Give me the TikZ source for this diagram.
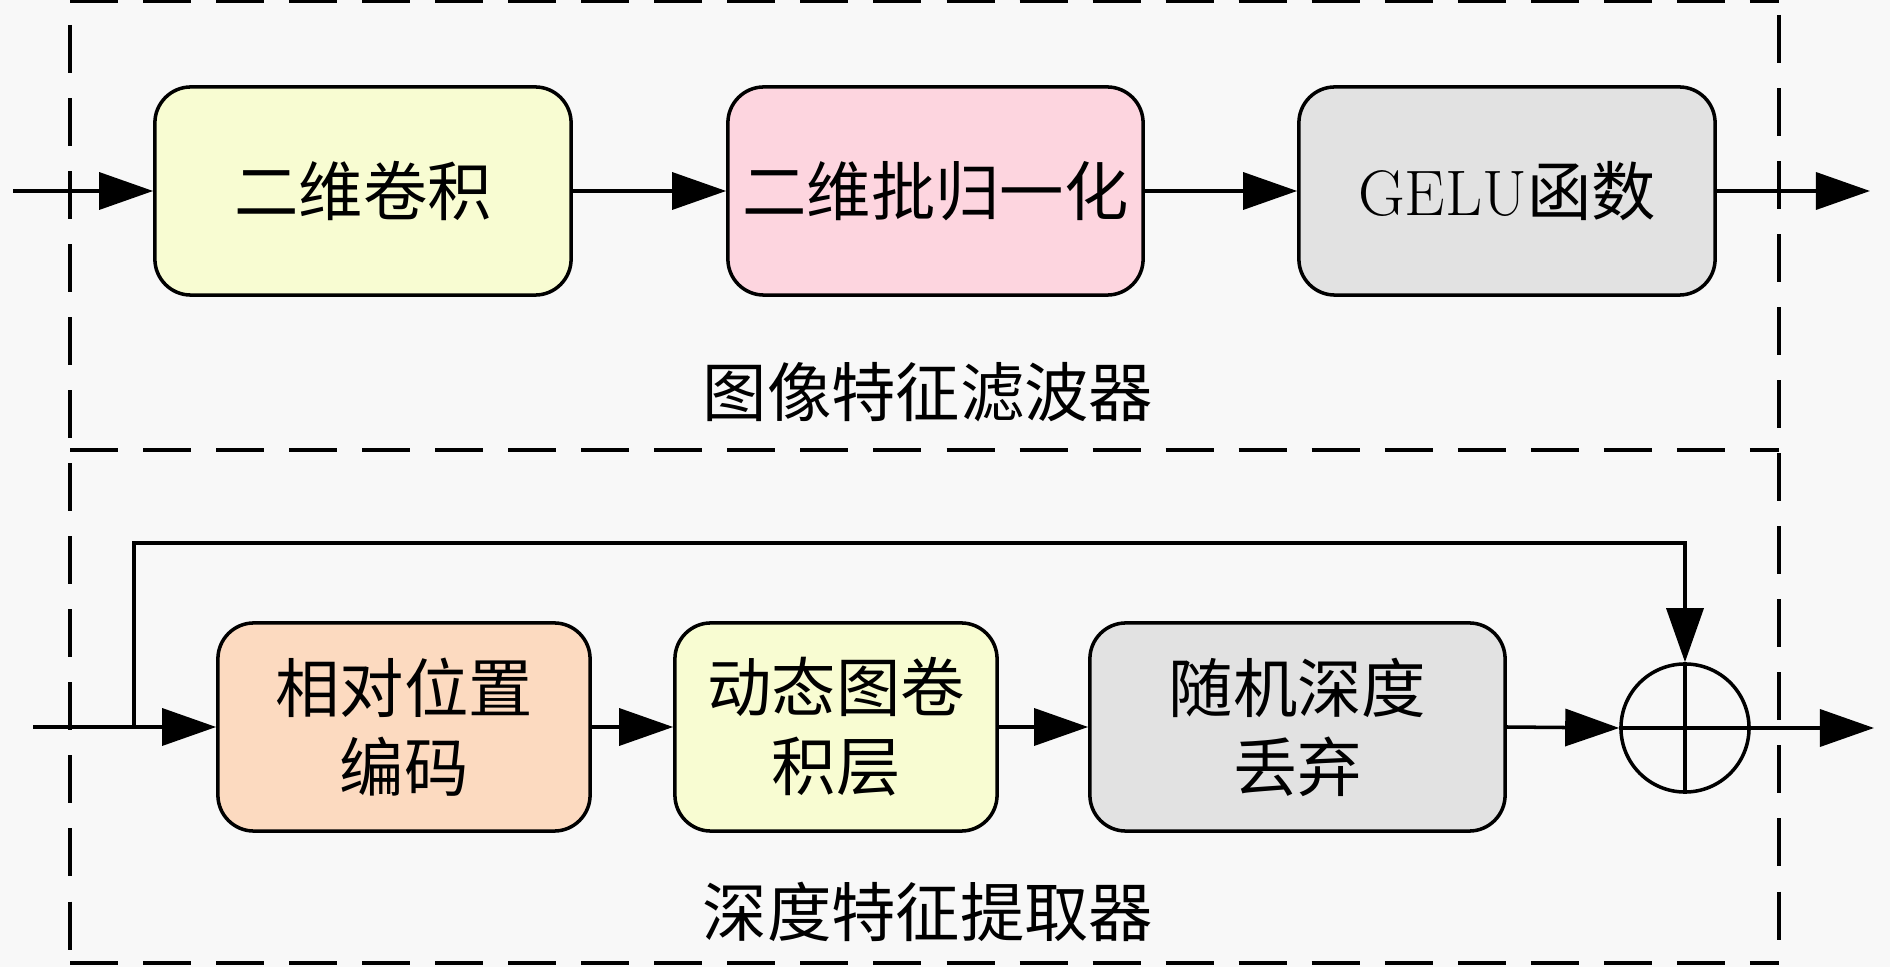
\documentclass[tikz,border=0pt]{standalone}
\usepackage{fontspec}
\newfontfamily\cjk{Noto Sans CJK SC}
\usetikzlibrary{arrows.meta,shapes.geometric}
\definecolor{cbg}{RGB}{248,248,248}
\definecolor{cyel}{RGB}{248,252,210}
\definecolor{cpink}{RGB}{253,213,223}
\definecolor{cgray}{RGB}{226,226,226}
\definecolor{cpeach}{RGB}{252,218,192}
\begin{document}
\begin{tikzpicture}[x=0.01cm,y=-0.01cm,
  blk/.style={draw=black, line width=1pt, rounded corners=0.36cm, minimum height=2.08cm, inner sep=0pt, align=center, font=\fontsize{18.3}{22.5}\selectfont\cjk},
  arr/.style={line width=1pt, -{Triangle[length=0.54cm,width=0.37cm]}},
  frame/.style={dash pattern=on 0.48cm off 0.25cm, line width=1pt},
  lbl/.style={font=\fontsize{18.3}{22}\selectfont\cjk, inner sep=0pt}]
\fill[cbg] (0,0) rectangle (1890,967);
\useasboundingbox (0,0) rectangle (1890,967);
% frames
\draw[frame] (70,1.5) -- (1779,1.5);
\draw[frame] (70,450) -- (1779,450);
\draw[frame] (70,963) -- (1779,963);
\draw[frame] (70,25) -- (70,963);
\draw[frame] (1779,15) -- (1779,963);
% top row
\node[blk, fill=cyel, minimum width=4.16cm] (b1) at (363,191) {二维卷积};
\node[blk, fill=cpink, minimum width=4.15cm] (b2) at (935.5,191) {二维批归一化};
\node[blk, fill=cgray, minimum width=4.16cm] (b3) at (1507,191) {{\rmfamily GELU}函数};
\node[lbl] (l1) at (928,392) {图像特征滤波器};
\coordinate (in1) at (13,191);
\coordinate (out1) at (1870,191);
\draw[arr] (in1) -- (b1.west);
\draw[arr] (b1.east) -- (b2.west);
\draw[arr] (b2.east) -- (b3.west);
\draw[arr] (b3.east) -- (out1);
% bottom row
\node[blk, fill=cpeach, minimum width=3.72cm] (b4) at (404,727) {相对位置\\编码};
\node[blk, fill=cyel, minimum width=3.22cm] (b5) at (836,727) {动态图卷\\积层};
\node[blk, fill=cgray, minimum width=4.15cm] (b6) at (1297.5,727) {随机深度\\丢弃};
\node[draw, circle, line width=1pt, minimum size=1.28cm, inner sep=0pt] (sum) at (1685,728) {};
\draw[line width=1pt] (sum.north) -- (sum.south) (sum.west) -- (sum.east);
\node[lbl] (l2) at (928,912) {深度特征提取器};
\coordinate (in2) at (33,727);
\coordinate (j) at (134,727);
\coordinate (top) at (134,543);
\coordinate (out2) at (1874,728);
\draw[arr] (in2) -- (b4.west);
\draw[arr] (j) -- (top) -| (sum.north);
\draw[arr] (b4.east) -- (b5.west);
\draw[arr] (b5.east) -- (b6.west);
\draw[arr] (b6.east) -- (sum.west);
\draw[arr] (sum.east) -- (out2);
\end{tikzpicture}
\end{document}
